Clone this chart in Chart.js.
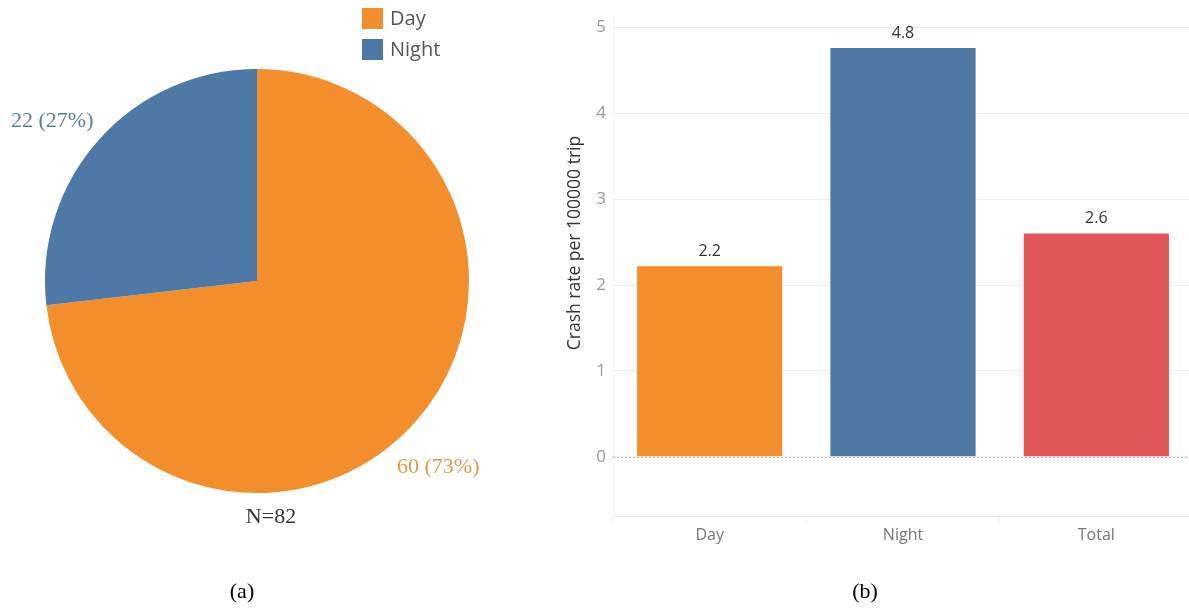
<!DOCTYPE html>
<html>
<head>
<meta charset="utf-8">
<script src="https://cdn.jsdelivr.net/npm/chart.js@4.4.0/dist/chart.umd.min.js"></script>
<style>
  body { margin: 0; background: #fff; }
  #wrap { position: relative; width: 1189px; height: 610px; overflow: hidden; }
  #pie { position: absolute; left: 0; top: 0; }
  #bar { position: absolute; left: 541px; top: 0; }
</style>
</head>
<body>
<div id="wrap">
  <canvas id="pie" width="600" height="610"></canvas>
  <canvas id="bar" width="652" height="610"></canvas>
</div>
<script>
// panel (a): crashes by time of day
const pieLabels = ['Day', 'Night'];
const pieValues = [60, 22];
const pieColors = ['#F28E2B', '#4E79A7'];

// panel (b): crash rate per 100000 trip
const barLabels = ['Day', 'Night', 'Total'];
const barValues = [2.22, 4.76, 2.6];
const barColors = ['#F28E2B', '#4E79A7', '#E15759'];
const yTicks = [0, 1, 2, 3, 4, 5];
const yTitle = 'Crash rate per 100000 trip';

const total = pieValues.reduce((a, b) => a + b, 0);

// labels + legend for the pie, drawn around it
const pieText = {
    id: 'pieText',
    afterDraw(chart) {
        const c = chart.ctx;
        c.save();
        // legend
        c.font = '20px "Open Sans", sans-serif';
        c.textBaseline = 'middle';
        c.textAlign = 'left';
        pieLabels.forEach((lab, i) => {
            const y = 8 + i * 31;
            c.fillStyle = pieColors[i];
            c.fillRect(362, y, 21, 21);
            c.fillStyle = '#555';
            c.fillText(lab, 390, y + 11);
        });
        // value labels
        const pct = v => v + ' (' + Math.round(v / total * 100) + '%)';
        c.font = '22px "Liberation Serif", serif';
        c.fillStyle = '#5A7DA6';
        c.fillText(pct(pieValues[1]), 11, 121);
        c.fillStyle = '#E39A4E';
        c.fillText(pct(pieValues[0]), 397, 467);
        c.fillStyle = '#333';
        c.textAlign = 'center';
        c.fillText('N=' + total, 271, 517);
        c.fillStyle = '#000';
        c.fillText('(a)', 242, 592);
        c.restore();
    }
};

new Chart(document.getElementById('pie'), {
    type: 'pie',
    data: {
        labels: pieLabels,
        datasets: [{
            data: pieValues,
            backgroundColor: pieColors,
            borderWidth: 0,
            hoverOffset: 0
        }]
    },
    options: {
        responsive: false,
        animation: false,
        layout: { padding: { left: 45, top: 69, right: 131, bottom: 117 } },
        plugins: { legend: { display: false }, tooltip: { enabled: false } }
    },
    plugins: [pieText]
});

// value labels above bars, dotted zero line, axis title, (b) caption
const barText = {
    id: 'barText',
    afterDatasetsDraw(chart) {
        const c = chart.ctx;
        const y = chart.scales.y;
        const area = chart.chartArea;
        c.save();
        const y0 = y.getPixelForValue(0);
        c.strokeStyle = '#aaa';
        c.lineWidth = 1;
        c.setLineDash([2, 2]);
        c.beginPath();
        c.moveTo(area.left, y0 + 0.5);
        c.lineTo(area.right, y0 + 0.5);
        c.stroke();
        c.setLineDash([]);
        c.font = '16px "Open Sans", sans-serif';
        c.fillStyle = '#333';
        c.textAlign = 'center';
        c.textBaseline = 'middle';
        chart.getDatasetMeta(0).data.forEach((bar, i) => {
            c.fillText(barValues[i].toFixed(1), bar.x, bar.y - 15);
        });
        // y axis title
        c.save();
        c.translate(575 - 541, 243);
        c.rotate(-Math.PI / 2);
        c.font = '17.5px "Open Sans", sans-serif';
        c.fillStyle = '#333';
        c.fillText(yTitle, 0, 0);
        c.restore();
        c.font = '22px "Liberation Serif", serif';
        c.fillStyle = '#000';
        c.fillText('(b)', 865 - 541, 592);
        c.restore();
    }
};

new Chart(document.getElementById('bar'), {
    type: 'bar',
    data: {
        labels: barLabels,
        datasets: [{
            data: barValues,
            backgroundColor: barColors,
            barPercentage: 0.751,
            categoryPercentage: 1
        }]
    },
    options: {
        responsive: false,
        animation: false,
        layout: { padding: { left: 0, top: 3, right: 0, bottom: 0 } },
        scales: {
            x: {
                grid: { drawOnChartArea: false, drawTicks: true, tickLength: 7, color: '#ececec' },
                border: { display: true, color: '#e8e8e8' },
                ticks: { color: '#777', padding: 3, font: { family: '"Open Sans", sans-serif', size: 16 } },
                afterFit: s => { s.height = 94; }
            },
            y: {
                min: -0.69,
                max: 5.12,
                afterBuildTicks: s => { s.ticks = yTicks.map(v => ({ value: v })); },
                grid: {
                    drawTicks: false,
                    color: ctx => ctx.tick && ctx.tick.value === 0 ? 'rgba(0,0,0,0)' : '#ececec'
                },
                border: { display: true, color: '#f2f2f2' },
                ticks: { color: '#999', padding: 7, font: { family: '"Open Sans", sans-serif', size: 17 } },
                afterFit: s => { s.width = 72; }
            }
        },
        plugins: { legend: { display: false }, tooltip: { enabled: false } }
    },
    plugins: [barText]
});
</script>
</body>
</html>
